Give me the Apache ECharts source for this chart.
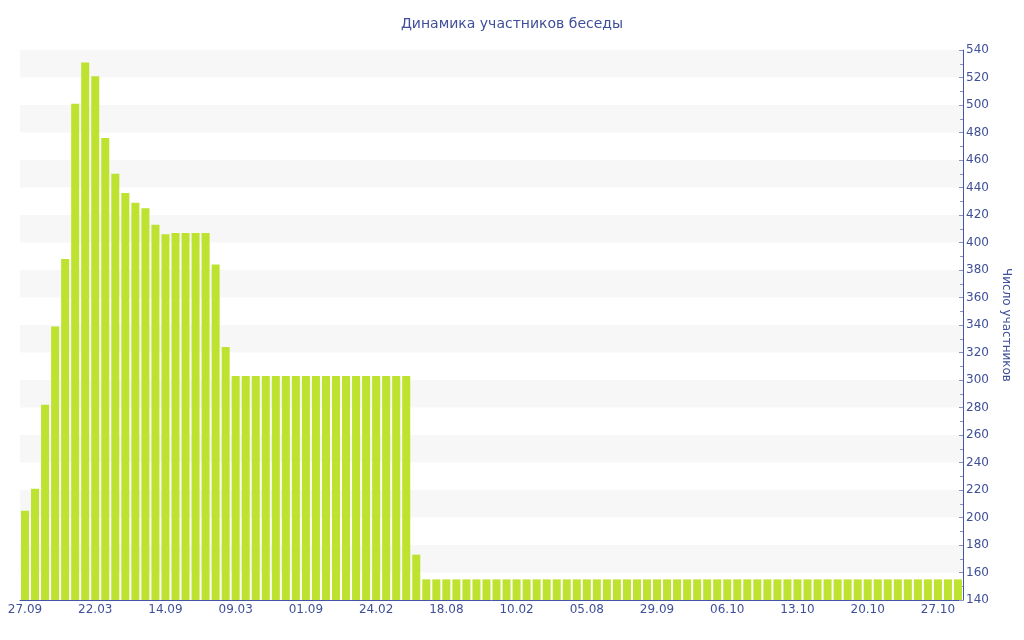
<!DOCTYPE html>
<html>
<head>
<meta charset="utf-8">
<script src="https://cdn.jsdelivr.net/npm/echarts@6/dist/echarts.min.js"></script>
<style>
  html, body { margin: 0; padding: 0; background: #fff; }
  #chart { width: 1024px; height: 640px; }
</style>
</head>
<body>
<div id="chart"></div>
<script>
// даты снимков (подписана каждая 7-я)
const dates = [
    '27.09', '22.10', '16.11', '11.12', '05.01', '30.01', '24.02',
    '22.03', '16.04', '11.05', '05.06', '30.06', '25.07', '19.08',
    '14.09', '09.10', '03.11', '28.11', '23.12', '17.01', '11.02',
    '09.03', '03.04', '28.04', '23.05', '17.06', '12.07', '06.08',
    '01.09', '26.09', '21.10', '15.11', '10.12', '04.01', '29.01',
    '24.02', '20.03', '14.04', '09.05', '03.06', '28.06', '23.07',
    '18.08', '12.09', '07.10', '01.11', '26.11', '21.12', '15.01',
    '10.02', '07.03', '01.04', '26.04', '21.05', '15.06', '10.07',
    '05.08', '13.08', '21.08', '29.08', '06.09', '14.09', '22.09',
    '29.09', '30.09', '01.10', '02.10', '03.10', '04.10', '05.10',
    '06.10', '07.10', '08.10', '09.10', '10.10', '11.10', '12.10',
    '13.10', '14.10', '15.10', '16.10', '17.10', '18.10', '19.10',
    '20.10', '21.10', '22.10', '23.10', '24.10', '25.10', '26.10',
    '27.10', '28.10', '29.10'
];

const members = [
    205, 221, 282, 339, 388, 501, 531, 521, 476, 450,
    436, 429, 425, 413, 406, 407, 407, 407, 407, 384,
    324, 303, 303, 303, 303, 303, 303, 303, 303, 303,
    303, 303, 303, 303, 303, 303, 303, 303, 303, 173,
    155, 155, 155, 155, 155, 155, 155, 155, 155, 155,
    155, 155, 155, 155, 155, 155, 155, 155, 155, 155,
    155, 155, 155, 155, 155, 155, 155, 155, 155, 155,
    155, 155, 155, 155, 155, 155, 155, 155, 155, 155,
    155, 155, 155, 155, 155, 155, 155, 155, 155, 155,
    155, 155, 155, 155
];

const yMin = 140;
const yMax = 540;
const yStep = 20;

const chart = echarts.init(document.getElementById('chart'));
const textColor = '#3f4f99';
const axisColor = '#4455a6';

chart.setOption({
    animation: false,
    textStyle: { fontFamily: 'DejaVu Sans' },
    title: {
        text: 'Динамика участников беседы',
        left: 'center',
        top: 12,
        textStyle: {
            fontFamily: 'DejaVu Sans',
            fontSize: 14,
            fontWeight: 'normal',
            color: textColor
        }
    },
    grid: {
        left: 20,
        right: 61,
        top: 50,
        bottom: 40
    },
    xAxis: {
        type: 'category',
        data: dates,
        axisLine: { lineStyle: { color: axisColor } },
        axisTick: {
            interval: 6,
            alignWithLabel: true,
            length: 3,
            lineStyle: { color: axisColor }
        },
        axisLabel: {
            interval: 6,
            color: textColor,
            fontSize: 12,
            margin: 4
        }
    },
    yAxis: {
        type: 'value',
        position: 'right',
        min: yMin,
        max: yMax,
        interval: yStep,
        name: 'Число участников',
        nameLocation: 'middle',
        nameRotate: -90,
        nameGap: 37,
        nameTextStyle: { color: textColor, fontSize: 12 },
        axisLine: { show: true, lineStyle: { color: axisColor } },
        axisTick: {
            show: true,
            inside: true,
            length: 4,
            lineStyle: { color: '#8a93bd' }
        },
        minorTick: {
            show: true,
            splitNumber: 2,
            length: 3,
            lineStyle: { color: '#8a93bd' }
        },
        axisLabel: {
            color: textColor,
            fontSize: 12,
            margin: 3
        },
        splitLine: { show: false },
        splitArea: {
            show: true,
            areaStyle: { color: ['#ffffff', '#f7f7f7'] }
        }
    },
    series: [
        {
            name: 'Число участников',
            type: 'bar',
            data: members,
            barCategoryGap: '20%',
            itemStyle: { color: '#bde22f' }
        }
    ]
});
</script>
</body>
</html>
